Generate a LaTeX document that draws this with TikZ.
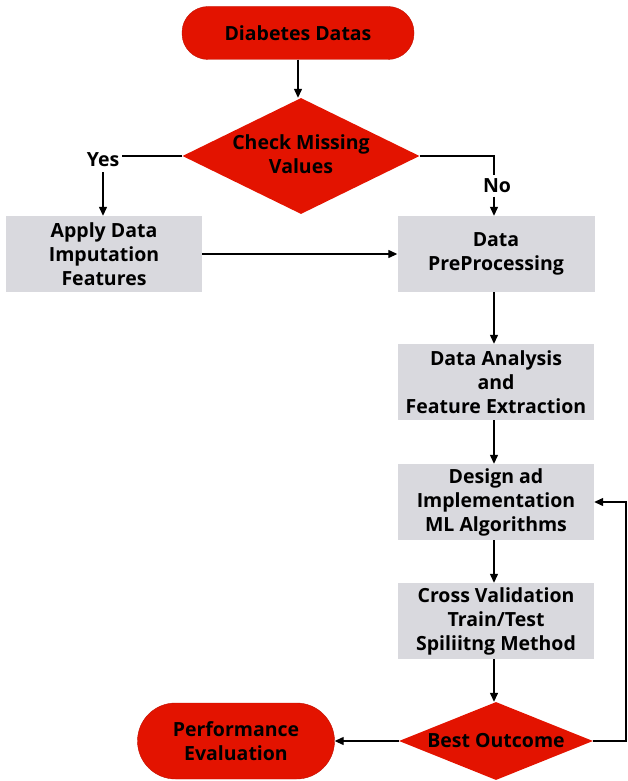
\documentclass[tikz,border=0pt]{standalone}
\usepackage{fontspec}
\setmainfont{Open Sans}
\usetikzlibrary{shapes.geometric,arrows.meta}
\definecolor{fcred}{HTML}{E31300}
\definecolor{fcgray}{HTML}{D9D9DE}
\begin{document}
\begin{tikzpicture}[x=1pt,y=-1pt,
  every node/.style={font=\bfseries\fontsize{19.5}{24}\selectfont, align=center, text=black},
  term/.style={draw=fcred!85!black, fill=fcred, rounded corners=26pt, inner sep=0pt},
  dec/.style={fill=fcred, diamond, inner sep=0pt},
  procbox/.style={fill=fcgray, inner sep=0pt, minimum width=196pt, minimum height=76pt},
  arr/.style={draw=black, line width=1.3pt, -{Triangle[length=9pt,width=8pt]}},
  ln/.style={draw=black, line width=1.3pt}]
\useasboundingbox (0,0) rectangle (627,781);
\node[term, minimum width=232pt, minimum height=53pt] (start) at (298,33) {Diabetes Datas};
\node[dec, minimum width=237pt, minimum height=116pt] (check) at (301,156) {};
\node at (301,154) {Check Missing\\Values};
\node[procbox] (impute) at (104,254) {Apply Data\\Imputation\\Features};
\node[procbox, minimum width=197pt] (prep) at (496,254) {Data\\PreProcessing};
\node[procbox] (anal) at (496,382) {Data Analysis\\and\\Feature Extraction};
\node[procbox] (design) at (496,502) {Design ad\\Implementation\\ML Algorithms};
\node[procbox] (cross) at (496,621) {Cross Validation\\Train/Test\\Spiliitng Method};
\node[dec, minimum width=194pt, minimum height=78pt] (best) at (496,741) {};
\node at (496,741) {Best Outcome};
\node[term, minimum width=197pt, minimum height=76pt, rounded corners=38pt] (perf) at (236,741) {Performance\\Evaluation};
\node (yes) at (103,160) {Yes};
\node (no) at (497,186) {No};
\coordinate (ycorner) at (122,156);
\coordinate (ncorner) at (494,156);
\coordinate (loopA) at (626,741);
\coordinate (loopB) at (626,502);
\draw[arr] (start.south) -- (start.south |- check.north);
\draw[ln] (check.west) -- (ycorner);
\draw[arr] (103,172) -- (impute.north -| 103,0);
\draw[ln] (check.east) -- (ncorner) -- (no.north -| ncorner);
\draw[arr] (no.south -| ncorner) -- (prep.north -| ncorner);
\draw[arr] (impute.east) -- (prep.west);
\draw[arr] (prep.south -| 494,0) -- (anal.north -| 494,0);
\draw[arr] (anal.south -| 494,0) -- (design.north -| 494,0);
\draw[arr] (design.south -| 494,0) -- (cross.north -| 494,0);
\draw[arr] (cross.south -| 494,0) -- (best.north -| 494,0);
\draw[arr] (best.west) -- (perf.east);
\draw[arr] (best.east) -- (loopA) -- (loopB) -- (design.east);
\end{tikzpicture}
\end{document}
